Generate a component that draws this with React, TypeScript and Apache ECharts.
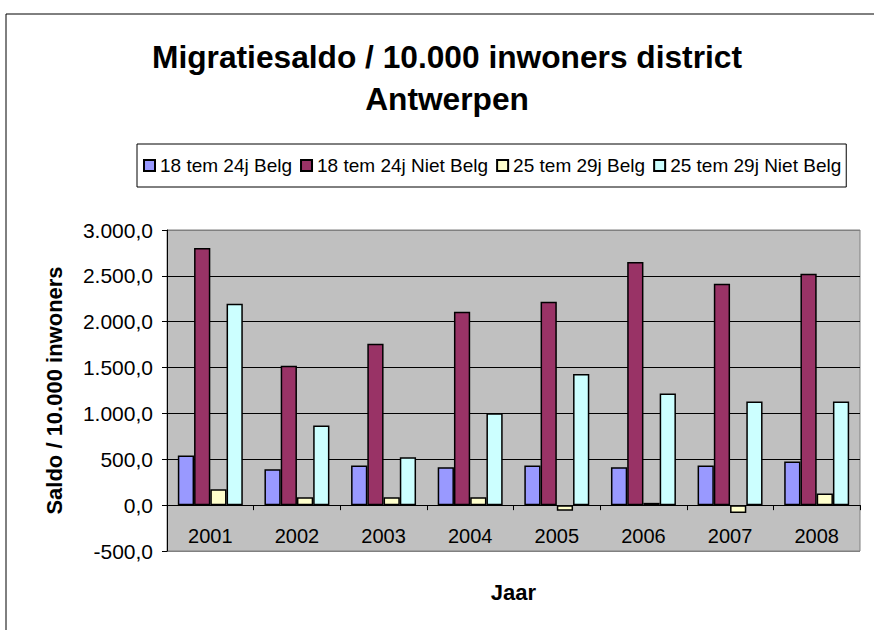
import React, { useEffect, useRef } from "react";
import * as echarts from "echarts";

const years = ["2001", "2002", "2003", "2004", "2005", "2006", "2007", "2008"];
const seriesNames = ["18 tem 24j Belg", "18 tem 24j Niet Belg", "25 tem 29j Belg", "25 tem 29j Niet Belg"];
const belg1824 = [541, 392, 432, 414, 432, 414, 432, 476];
const nietBelg1824 = [2803, 1521, 1761, 2109, 2218, 2650, 2414, 2523];
const belg2529 = [174, 87, 87, 87, -62, 25, -87, 127];
const nietBelg2529 = [2197, 868, 523, 1002, 1430, 1216, 1129, 1129];
const colors = ["#9999FF", "#993366", "#FFFFCC", "#CCFFFF"];

const Y_MIN = -500;
const Y_MAX = 3000;
const GRID_TOP = 230;
const GRID_HEIGHT = 321;

const FONT = "'Liberation Sans', Arial, Helvetica, sans-serif";

function fmt(v: number): string {
  const neg = v < 0;
  const s = Math.abs(v).toFixed(1);
  const [i, d] = s.split(".");
  const withDots = i.replace(/\B(?=(\d{3})+(?!\d))/g, ".");
  return (neg ? "-" : "") + withDots + "," + d;
}

export default function App() {
  const ref = useRef<HTMLDivElement>(null);
  useEffect(() => {
    if (!ref.current) return;
    const chart = echarts.init(ref.current, undefined, { renderer: "svg" });
    const allData = [belg1824, nietBelg1824, belg2529, nietBelg2529];
    // distance from grid bottom to the zero line, so the category axis sits on zero
    const zeroOffset = (GRID_HEIGHT * (0 - Y_MIN)) / (Y_MAX - Y_MIN);
    chart.setOption({
      animation: false,
      backgroundColor: "#FFFFFF",
      title: {
        text: "Migratiesaldo / 10.000 inwoners district\nAntwerpen",
        left: 442,
        textAlign: "center",
        top: 31,
        textStyle: {
          fontFamily: FONT,
          fontSize: 31.7,
          fontWeight: "bold",
          color: "#000",
          lineHeight: 42,
        },
      },
      legend: {
        left: 137,
        top: 144,
        orient: "horizontal",
        borderColor: "#000",
        borderWidth: 1,
        padding: [12, 5, 12, 6],
        itemWidth: 11,
        itemHeight: 11,
        itemGap: 8,
        icon: "rect",
        textStyle: { fontFamily: FONT, fontSize: 19, color: "#000" },
        data: seriesNames,
      },
      graphic: [
        {
          type: "rect",
          shape: { x: 6, y: 14, width: 900, height: 700 },
          style: { fill: "none", stroke: "#000", lineWidth: 1 },
          silent: true,
          z: -1,
        },
      ],
      grid: {
        left: 167,
        top: GRID_TOP,
        width: 693,
        height: GRID_HEIGHT,
        outerBoundsMode: "none",
        containLabel: false,
        show: true,
        backgroundColor: "#C0C0C0",
        borderColor: "#808080",
        borderWidth: 1,
      },
      xAxis: {
        type: "category",
        data: years,
        position: "bottom",
        offset: -zeroOffset,
        name: "Jaar",
        nameLocation: "middle",
        nameGap: 76,
        nameMoveOverlap: false,
        nameTextStyle: { fontFamily: FONT, fontSize: 22, fontWeight: "bold", color: "#000" },
        axisLine: { onZero: false, lineStyle: { color: "#000", width: 1 } },
        axisTick: { show: true, alignWithLabel: false, length: 5, lineStyle: { color: "#000" } },
        axisLabel: { margin: 21, fontFamily: FONT, fontSize: 20, color: "#000" },
        splitLine: { show: false },
      },
      yAxis: {
        type: "value",
        min: Y_MIN,
        max: Y_MAX,
        interval: 500,
        name: "Saldo / 10.000 inwoners",
        nameLocation: "middle",
        nameGap: 102,
        nameRotate: 90,
        nameMoveOverlap: false,
        nameTextStyle: { fontFamily: FONT, fontSize: 22, fontWeight: "bold", color: "#000" },
        axisLine: { show: true, lineStyle: { color: "#000", width: 1 } },
        axisTick: { show: true, length: 5, lineStyle: { color: "#000" } },
        axisLabel: { margin: 14, fontFamily: FONT, fontSize: 21, color: "#000", formatter: (v: number) => fmt(v) },
        splitLine: {
          show: true,
          lineStyle: {
            color: ["#808080", "#000", "#000", "#000", "#000", "#000", "#000", "#808080"],
            width: 1,
          },
        },
      },
      series: seriesNames.map((name, i) => ({
        name,
        type: "bar",
        data: allData[i],
        barGap: "0%",
        barCategoryGap: "25%",
        itemStyle: { color: colors[i], borderColor: "#000", borderWidth: 1.5 },
      })),
    });
    return () => chart.dispose();
  }, []);
  return (
    <div
      ref={ref}
      style={{ position: "fixed", left: 0, top: 0, width: 874, height: 630 }}
    />
  );
}
